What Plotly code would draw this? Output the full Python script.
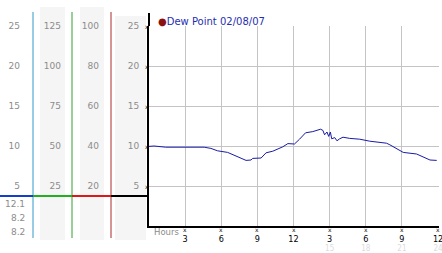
import plotly.graph_objects as go

# ---- data ----
hours = [0.0, 0.42, 1.39, 4.58, 5.14, 5.69, 6.53, 7.22, 8.06, 8.47, 8.61, 9.31, 9.72,
         10.28, 10.69, 11.11, 11.53, 12.08, 12.5, 13.0, 13.6, 13.89, 14.25, 14.44,
         14.58, 14.78, 14.92, 15.06, 15.17, 15.42, 15.61, 15.83, 16.11, 16.67, 17.5,
         18.33, 19.72, 20.0, 21.11, 22.22, 23.33, 23.89]
dew = [9.95, 10.0, 9.85, 9.85, 9.7, 9.4, 9.2, 8.75, 8.2, 8.25, 8.45, 8.5, 9.15,
       9.35, 9.6, 9.9, 10.3, 10.25, 10.85, 11.65, 11.8, 11.9, 12.1, 11.95,
       11.4, 11.75, 11.2, 11.75, 10.9, 11.05, 10.65, 10.9, 11.1, 10.95, 10.85,
       10.6, 10.35, 10.15, 9.2, 9.0, 8.25, 8.2]
series_name = "Dew Point 02/08/07"

x_tickvals = [3, 6, 9, 12, 15, 18, 21, 24]
x_ticktext = ["3", "6", "9", "12", "3", "6", "9", "12"]
x2_tickvals = [15, 18, 21, 24]
x2_ticktext = ["15", "18", "21", "24"]

scale1_ticks = [5, 10, 15, 20, 25]
scale2_ticks = [25, 50, 75, 100, 125]
scale3_ticks = [20, 40, 60, 80, 100]
main_ticks = [5, 10, 15, 20, 25]

W, H = 442, 253
ML, MR, MT, MB = 0, 3, 26, 27
PW = W - ML - MR
PH = H - MT - MB
XMAX = 24.08


def PX(px):
    return (px - ML) / PW


def PY(py):
    return (H - MB - py) / PH


FONT = "DejaVu Sans"
NARROW = "Liberation Sans Narrow, DejaVu Sans Condensed, Liberation Sans"
GRAY = "#8c8c8c"

fig = go.Figure()

# data line
fig.add_trace(go.Scatter(x=hours, y=dew, mode="lines",
                         line=dict(color="#1a1aa8", width=1), showlegend=False,
                         hoverinfo="skip"))
# placeholder traces to activate extra axes
for ya in ["y2", "y3", "y4"]:
    fig.add_trace(go.Scatter(x=[None], y=[None], yaxis=ya, showlegend=False))
fig.add_trace(go.Scatter(x=[None], y=[None], xaxis="x2", showlegend=False))

tickfont = dict(family=FONT, size=9, color=GRAY)

fig.update_layout(
    width=W, height=H,
    margin=dict(l=ML, r=MR, t=MT, b=MB),
    paper_bgcolor="white", plot_bgcolor="white",
    font=dict(family=FONT, size=9),
    xaxis=dict(domain=[PX(149), 1], range=[0, XMAX], tickvals=x_tickvals,
               ticktext=x_ticktext, tickfont=dict(family=NARROW, size=9, color="black"),
               showline=True, linecolor="black", linewidth=2, showgrid=True,
               gridcolor="#c4c4c4", gridwidth=1, zeroline=False, ticks="",
               ticklabelstandoff=3, ticklabeloverflow="allow", fixedrange=True),
    xaxis2=dict(overlaying="x", anchor="y", side="bottom", range=[0, XMAX],
                tickvals=x2_tickvals, ticktext=x2_ticktext,
                tickfont=dict(family=NARROW, size=8, color="#dcdcdc"),
                showgrid=False, showline=False, zeroline=False, ticks="",
                ticklabelstandoff=16, ticklabeloverflow="allow"),
    yaxis=dict(range=[0, 25], tickvals=main_ticks, tickfont=tickfont,
               showline=True, linecolor="black", linewidth=2, showgrid=True,
               gridcolor="#c4c4c4", gridwidth=1, zeroline=False, ticks="",
               ticklabelstandoff=6),
    yaxis2=dict(overlaying="y", anchor="free", position=PX(33), side="left",
                range=[0, 25], tickvals=scale1_ticks, tickfont=tickfont,
                showgrid=False, showline=False, zeroline=False, ticks="",
                ticklabelstandoff=13),
    yaxis3=dict(overlaying="y", anchor="free", position=PX(72), side="left",
                range=[0, 125], tickvals=scale2_ticks, tickfont=tickfont,
                showgrid=False, showline=False, zeroline=False, ticks="",
                ticklabelstandoff=11),
    yaxis4=dict(overlaying="y", anchor="free", position=PX(111), side="left",
                range=[0, 100], tickvals=scale3_ticks, tickfont=tickfont,
                showgrid=False, showline=False, zeroline=False, ticks="",
                ticklabelstandoff=12),
)

shapes = []
# light stripes
for x0, x1, y0, y1 in [(40, 65, 7, 240), (80, 104, 7, 240), (115, 146, 16, 240)]:
    shapes.append(dict(type="rect", xref="paper", yref="paper", x0=PX(x0), x1=PX(x1),
                       y0=PY(y1), y1=PY(y0), fillcolor="#f5f5f5", line=dict(width=0),
                       layer="below"))
# coloured vertical scale lines
for xp, col in [(33, "#3399cc"), (72, "#33a033"), (111, "#aa2a2a")]:
    shapes.append(dict(type="line", xref="paper", yref="paper", x0=PX(xp), x1=PX(xp),
                       y0=PY(238), y1=PY(12), line=dict(color=col, width=1)))
# coloured horizontal bar
for x0, x1, col in [(0, 33, "#1240c8"), (33, 72, "#22b022"), (72, 111, "#dd1818"),
                    (111, 149, "black")]:
    shapes.append(dict(type="line", xref="paper", yref="paper", x0=PX(x0), x1=PX(x1),
                       y0=PY(196), y1=PY(196), line=dict(color=col, width=2)))
# extension of left axis line above plot
shapes.append(dict(type="line", xref="paper", yref="paper", x0=PX(149), x1=PX(149),
                   y0=PY(26), y1=PY(13), line=dict(color="black", width=2)))
fig.update_layout(shapes=shapes)

glyph_font = dict(family=FONT, size=6, color="#111111")
stats = [f"{max(dew):.1f}", f"{min(dew):.1f}", f"{dew[-1]:.1f}"]
annotations = []
for txt, py in zip(stats, [204, 218, 232]):
    annotations.append(dict(text=txt, xref="paper", yref="paper", x=PX(27), y=PY(py),
                            xanchor="right", yanchor="middle", showarrow=False,
                            font=dict(family=FONT, size=9, color=GRAY)))
# small tick glyphs on both axes
for h in x_tickvals:
    annotations.append(dict(text="x", xref="x", yref="paper", x=h, y=PY(229.5),
                            xanchor="center", yanchor="middle", showarrow=False,
                            font=glyph_font))
for v in main_ticks:
    annotations.append(dict(text="x", xref="paper", yref="y", x=PX(146.5), y=v,
                            xanchor="center", yanchor="middle", showarrow=False,
                            font=glyph_font))
annotations.append(dict(text="Hours", xref="paper", yref="paper", x=PX(152), y=PY(232),
                        xanchor="left", yanchor="middle", showarrow=False,
                        font=dict(family=FONT, size=8.5, color=GRAY)))
annotations.append(dict(text="<span style='color:#8b1010'>●</span>"
                             "<span style='color:#1f2fb0'>" + series_name + "</span>",
                        xref="paper", yref="paper", x=PX(156), y=PY(21),
                        xanchor="left", yanchor="middle", showarrow=False,
                        font=dict(family=FONT, size=10)))
fig.update_layout(annotations=annotations)

fig.write_html("out.html")
